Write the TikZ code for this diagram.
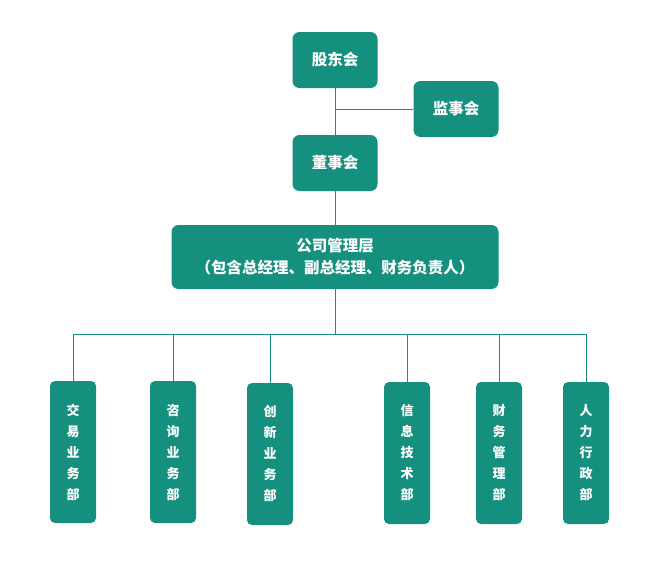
\documentclass[tikz,border=0pt]{standalone}
\usepackage{fontspec}
\newfontfamily\cjk{Noto Sans CJK SC}
\definecolor{teal1}{RGB}{21,143,126}
\begin{document}
\begin{tikzpicture}[x=1pt,y=-1pt,
  box/.style={fill=teal1,rounded corners=7pt,text=white,font=\cjk\bfseries\fontsize{15.5}{22}\selectfont,align=center,inner sep=0pt},
  dept/.style={fill=teal1,rounded corners=5pt,text=white,font=\cjk\bfseries\fontsize{13}{21}\selectfont,align=center,inner sep=0pt,minimum width=46pt,minimum height=142pt},
  link/.style={draw=teal1,line width=1pt}]
\useasboundingbox (0,0) rectangle (665,579);
\node[box,minimum width=85pt,minimum height=56pt] (gd) at (335,60) {股东会};
\node[box,minimum width=85pt,minimum height=56pt] (js) at (456,109) {监事会};
\node[box,minimum width=85pt,minimum height=56pt] (ds) at (335,163) {董事会};
\node[box,minimum width=327pt,minimum height=64pt] (mg) at (335,257) {公司管理层\\（包含总经理、副总经理、财务负责人）};
\node[dept] (d1) at (73,452) {交\\易\\业\\务\\部};
\node[dept] (d2) at (173,452) {咨\\询\\业\\务\\部};
\node[dept] (d3) at (270,454) {创\\新\\业\\务\\部};
\node[dept] (d4) at (407,453) {信\\息\\技\\术\\部};
\node[dept] (d5) at (499,453) {财\\务\\管\\理\\部};
\node[dept] (d6) at (586,453) {人\\力\\行\\政\\部};
\coordinate (bus) at (335,334.3);
\draw[link] (gd.south) -- (ds.north);
\draw[link] (js.west) -- (js.west -| gd.south);
\draw[link] (ds.south) -- (mg.north);
\draw[link] (mg.south) -- (bus);
\draw[link] (d1.north |- bus) -- (d6.north |- bus);
\foreach \d in {d1,d2,d3,d4,d5,d6} \draw[link] (\d.north) -- (\d.north |- bus);
\end{tikzpicture}
\end{document}
